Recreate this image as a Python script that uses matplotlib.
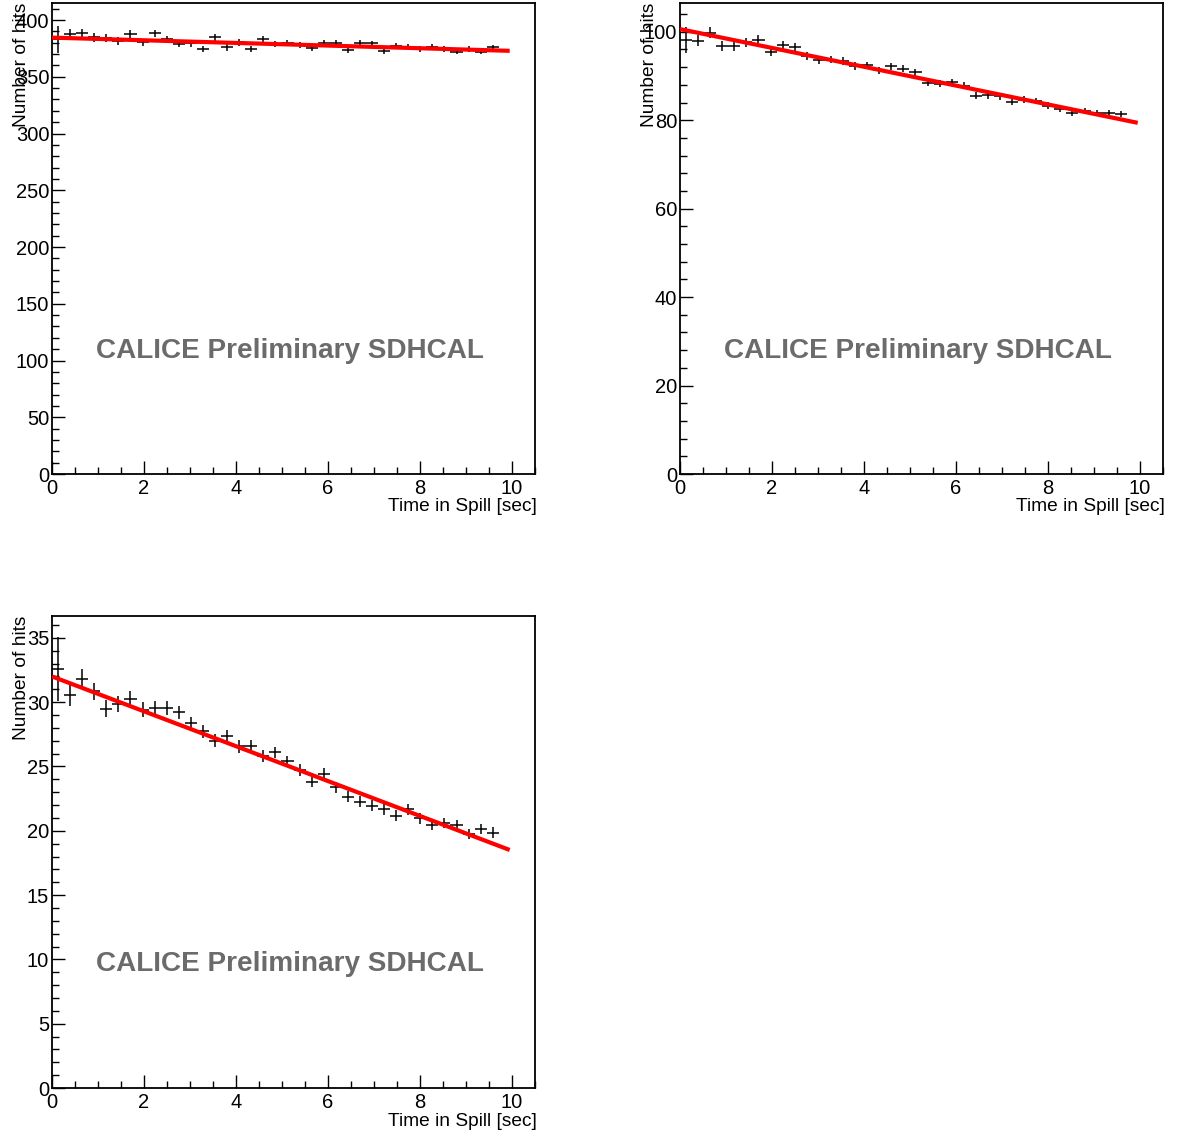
import matplotlib
matplotlib.use("Agg")
import matplotlib.pyplot as plt
from matplotlib.ticker import MultipleLocator
import numpy as np

plt.rcParams['font.family'] = ['Liberation Sans', 'DejaVu Sans']

# --- Binning: 40 bins over 0-10.5 s, the first 37 are filled ---
time_edges = np.linspace(0.0, 10.5, 41)
n_filled = 37

# --- Mean number of hits per bin (three thresholds) ---
hits_1 = [383.0, 387.4, 388.3, 384.7, 383.8, 381.8, 387.4, 380.3, 388.3, 383.2,
          378.8, 379.4, 374.4, 384.7, 375.9, 380.3, 374.4, 383.2, 378.5, 379.4,
          378.0, 375.6, 380.0, 380.0, 373.5, 380.0, 379.4, 372.9, 377.3, 376.5,
          374.4, 376.5, 374.4, 372.0, 374.4, 372.0, 375.9]
err_1 = [12.0, 4.4, 4.0, 3.8, 3.6, 3.5, 3.4, 3.3, 3.2, 3.1,
         3.0, 3.0, 2.9, 2.9, 2.8, 2.8, 2.7, 2.7, 2.7, 2.6,
         2.6, 2.6, 2.5, 2.5, 2.5, 2.5, 2.4, 2.4, 2.4, 2.4,
         2.4, 2.3, 2.3, 2.3, 2.3, 2.3, 2.3]

hits_2 = [98.2, 98.0, 99.8, 96.7, 96.7, 97.6, 98.2, 95.4, 96.9, 96.5,
          94.6, 93.7, 93.7, 93.4, 92.2, 92.4, 91.3, 92.2, 91.6, 90.8,
          88.5, 88.2, 88.6, 87.8, 85.5, 85.6, 85.4, 84.1, 84.6, 84.3,
          83.3, 82.5, 81.6, 82.1, 81.6, 81.6, 81.4]
err_2 = [2.9, 1.3, 1.2, 1.1, 1.05, 1.0, 1.0, 0.95, 0.95, 0.9,
         0.9, 0.9, 0.85, 0.85, 0.85, 0.85, 0.8, 0.8, 0.8, 0.8,
         0.8, 0.8, 0.8, 0.78, 0.78, 0.78, 0.76, 0.76, 0.76, 0.75,
         0.75, 0.75, 0.75, 0.75, 0.75, 0.75, 0.75]

hits_3 = [32.6, 30.58, 31.8, 30.84, 29.49, 29.86, 30.25, 29.42, 29.55, 29.55,
          29.21, 28.38, 27.73, 27.0, 27.34, 26.56, 26.56, 25.78, 26.09, 25.39,
          24.74, 23.83, 24.41, 23.37, 22.66, 22.27, 21.96, 21.67, 21.16, 21.67,
          20.98, 20.46, 20.59, 20.46, 19.76, 20.12, 19.86]
err_3 = [2.5, 0.9, 0.75, 0.68, 0.65, 0.6, 0.62, 0.58, 0.55, 0.53,
         0.52, 0.5, 0.5, 0.5, 0.48, 0.48, 0.47, 0.47, 0.46, 0.46,
         0.45, 0.45, 0.45, 0.44, 0.44, 0.43, 0.43, 0.43, 0.42, 0.42,
         0.42, 0.41, 0.41, 0.41, 0.40, 0.40, 0.40]

# linear fit results (intercept, slope) and fit range
fit_1 = (384.5, -1.17)
fit_2 = (100.6, -2.13)
fit_3 = (32.0, -1.356)
fit_range = (0.0, 9.95)

W, H = 1180, 1135
fig = plt.figure(figsize=(W / 100, H / 100), dpi=100)

def pad_axes(left, top, right, bottom):
    return fig.add_axes([left / W, 1 - bottom / H, (right - left) / W, (bottom - top) / H])

def draw_panel(ax, hits, errs, fit, ymax, major, minor):
    centers = 0.5 * (time_edges[:-1] + time_edges[1:])[:n_filled]
    widths = np.diff(time_edges)[:n_filled]
    ax.errorbar(centers, hits, xerr=widths / 2, yerr=errs, fmt='none',
                ecolor='black', elinewidth=1.1, capsize=0, zorder=2)
    xf = np.linspace(fit_range[0], fit_range[1], 50)
    ax.plot(xf, fit[0] + fit[1] * xf, color='red', lw=3.0, zorder=3,
            solid_capstyle='butt')

    ax.set_xlim(0, 10.5)
    ax.set_ylim(0, ymax)
    ax.xaxis.set_major_locator(MultipleLocator(2))
    ax.xaxis.set_minor_locator(MultipleLocator(0.5))
    ax.yaxis.set_major_locator(MultipleLocator(major))
    ax.yaxis.set_minor_locator(MultipleLocator(minor))
    ax.tick_params(which='both', direction='in', top=False, right=False,
                   labelsize=14.5, width=1.0)
    ax.tick_params(which='major', length=9.5)
    ax.tick_params(which='minor', length=4.8)
    ax.tick_params(axis='x', pad=3.5)
    ax.tick_params(axis='y', pad=2)
    for sp in ax.spines.values():
        sp.set_linewidth(1.3)

    ax.set_xlabel('Time in Spill [sec]', fontsize=13.8, loc='right')
    ax.xaxis.set_label_coords(1.003, -0.052)
    ax.set_ylabel('Number of hits', fontsize=13.8, loc='top')
    ax.yaxis.set_label_coords(-0.045, 1.0)

    ax.text(0.493, 0.262, 'CALICE Preliminary SDHCAL', transform=ax.transAxes,
            ha='center', va='center', fontsize=20.1, fontweight='bold',
            color='#6b6b6b')

ax1 = pad_axes(52, 3, 535, 474)
ax2 = pad_axes(680, 3, 1163, 474)
ax3 = pad_axes(52, 616, 535, 1088)

draw_panel(ax1, hits_1, err_1, fit_1, 415, 50, 10)
draw_panel(ax2, hits_2, err_2, fit_2, 106.5, 20, 4)
draw_panel(ax3, hits_3, err_3, fit_3, 36.7, 5, 1)

fig.savefig('out.png', dpi=100)
